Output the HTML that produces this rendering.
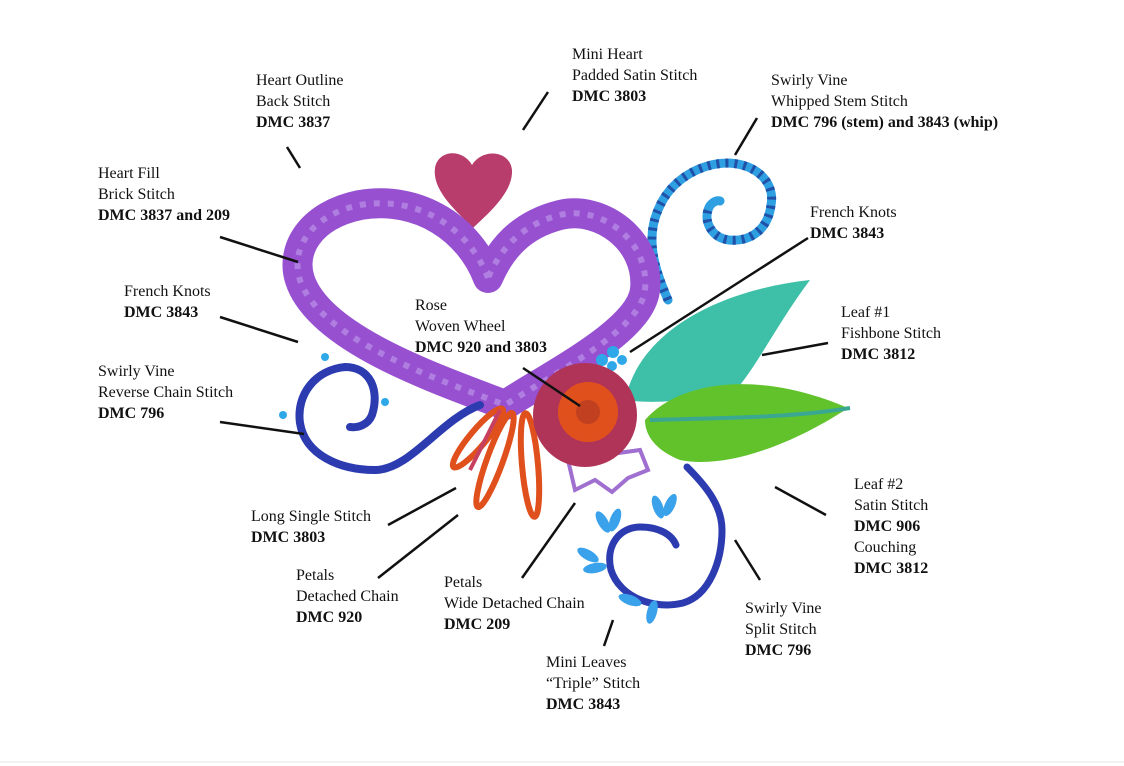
<!DOCTYPE html>
<html><head><meta charset="utf-8"><style>
body{margin:0;width:1124px;height:766px;background:#fff;position:relative;overflow:hidden;font-family:"Liberation Serif",serif;font-size:16px;color:#111}
.l{position:absolute;line-height:21px;white-space:nowrap}
b{font-weight:bold}
svg{position:absolute;left:0;top:0}
</style></head><body>
<svg width="1124" height="766" viewBox="0 0 1124 766">
<!-- top right swirl -->
<path d="M668,300 C655,270 645,240 658,210 C670,180 700,163 729,163 C760,165 775,185 771,205 C768,230 750,242 729,240 C712,238 704,222 708,210 C710,203 716,200 720,201" fill="none" stroke="#2e9fe0" stroke-width="9" stroke-linecap="round"/>
<path d="M668,300 C655,270 645,240 658,210 C670,180 700,163 729,163 C760,165 775,185 771,205 C768,230 750,242 729,240 C712,238 704,222 708,210" fill="none" stroke="#2050a8" stroke-width="9" stroke-dasharray="3 6"/>
<!-- mini heart -->
<path d="M473,228 C455,210 432,190 435,168 C438,150 462,148 472,165 C482,148 510,150 512,170 C513,192 490,212 473,228 Z" fill="#b83c6c"/>
<!-- heart outline -->
<path d="M488,278 C470,230 420,195 360,205 C310,215 290,250 300,280 C320,340 440,380 505,405 C560,370 640,330 645,290 C650,240 600,205 560,215 C520,225 500,250 488,278 Z" fill="none" stroke="#9650d0" stroke-width="30" stroke-linejoin="round"/>
<path d="M488,278 C470,230 420,195 360,205 C310,215 290,250 300,280 C320,340 440,380 505,405 C560,370 640,330 645,290 C650,240 600,205 560,215 C520,225 500,250 488,278 Z" fill="none" stroke="#b07ee0" stroke-width="6" stroke-dasharray="6 8"/>
<!-- left blue vine -->
<path d="M480,405 C440,420 410,470 375,470 C340,470 305,455 300,423 C296,395 315,370 345,367 C370,367 380,390 372,415 C368,425 358,428 350,427" fill="none" stroke="#2c3cb0" stroke-width="8" stroke-linecap="round"/>
<circle cx="325" cy="357" r="4" fill="#2ea8e8"/><circle cx="385" cy="402" r="4" fill="#2ea8e8"/><circle cx="283" cy="415" r="4" fill="#2ea8e8"/>
<!-- right bottom vine -->
<path d="M687,467 C705,485 722,505 722,530 C722,560 710,595 683,603 C655,610 620,598 611,570 C605,545 620,527 640,527 C660,527 672,535 676,545" fill="none" stroke="#2c3cb0" stroke-width="7" stroke-linecap="round"/>
<!-- mini leaves -->
<g fill="#3aa2ea">
<ellipse cx="603" cy="522" rx="5" ry="12" transform="rotate(-30 603 522)"/><ellipse cx="615" cy="520" rx="5" ry="12" transform="rotate(20 615 520)"/>
<ellipse cx="658" cy="507" rx="5" ry="12" transform="rotate(-20 658 507)"/><ellipse cx="670" cy="505" rx="5" ry="12" transform="rotate(25 670 505)"/>
<ellipse cx="588" cy="555" rx="5" ry="12" transform="rotate(-60 588 555)"/><ellipse cx="595" cy="568" rx="5" ry="12" transform="rotate(-100 595 568)"/>
<ellipse cx="630" cy="600" rx="5" ry="12" transform="rotate(-70 630 600)"/><ellipse cx="652" cy="612" rx="5" ry="12" transform="rotate(15 652 612)"/>
</g>
<!-- petals orange -->
<g fill="none" stroke="#e0501c" stroke-width="6">
<ellipse cx="478" cy="438" rx="8" ry="38" transform="rotate(40 478 438)"/>
<ellipse cx="495" cy="460" rx="8" ry="50" transform="rotate(20 495 460)"/>
<ellipse cx="530" cy="465" rx="8" ry="52" transform="rotate(-5 530 465)"/>
</g>
<line x1="500" y1="410" x2="470" y2="470" stroke="#c84060" stroke-width="4"/>
<!-- purple petals -->
<path d="M568,460 L575,490 L595,480 L612,492 L628,478 L648,470 L640,450 Z" fill="none" stroke="#a070d0" stroke-width="4"/>
<!-- teal leaf -->
<path d="M625,400 C640,330 720,290 810,280 C780,320 760,360 740,385 C700,400 660,405 625,400Z" fill="#3ec0a8"/>
<!-- green leaf -->
<path d="M645,420 C680,380 760,370 848,408 C800,440 730,470 680,460 C655,450 645,435 645,420 Z" fill="#62c22c"/>
<path d="M650,420 C720,418 790,418 850,408" fill="none" stroke="#3aa890" stroke-width="4"/>
<!-- french knots -->
<g fill="#2ea8e8"><circle cx="602" cy="360" r="6"/><circle cx="613" cy="352" r="6"/><circle cx="612" cy="366" r="5"/><circle cx="622" cy="360" r="5"/></g>
<!-- rose -->
<circle cx="585" cy="415" r="52" fill="#b03458"/>
<circle cx="588" cy="412" r="30" fill="#e0501c"/>
<circle cx="588" cy="412" r="12" fill="#c04020"/>
<!-- pointer lines -->
<g stroke="#111" stroke-width="2.5">
<line x1="287" y1="147" x2="300" y2="168"/>
<line x1="548" y1="92" x2="523" y2="130"/>
<line x1="757" y1="118" x2="735" y2="155"/>
<line x1="220" y1="237" x2="298" y2="262"/>
<line x1="220" y1="317" x2="298" y2="342"/>
<line x1="220" y1="422" x2="304" y2="434"/>
<line x1="808" y1="238" x2="630" y2="352"/>
<line x1="828" y1="343" x2="762" y2="355"/>
<line x1="523" y1="368" x2="580" y2="406"/>
<line x1="826" y1="515" x2="775" y2="487"/>
<line x1="388" y1="525" x2="456" y2="488"/>
<line x1="378" y1="578" x2="458" y2="515"/>
<line x1="522" y1="578" x2="575" y2="503"/>
<line x1="604" y1="646" x2="613" y2="620"/>
<line x1="760" y1="580" x2="735" y2="540"/>
</g>
<line x1="0" y1="762" x2="1124" y2="762" stroke="#e4e4e4" stroke-width="1"/>
</svg>
<div class="l" style="left:256px;top:70px">Heart Outline<br>Back Stitch<br><b>DMC 3837</b></div>
<div class="l" style="left:572px;top:44px">Mini Heart<br>Padded Satin Stitch<br><b>DMC 3803</b></div>
<div class="l" style="left:771px;top:70px">Swirly Vine<br>Whipped Stem Stitch<br><b>DMC 796 (stem) and 3843 (whip)</b></div>
<div class="l" style="left:98px;top:163px">Heart Fill<br>Brick Stitch<br><b>DMC 3837 and 209</b></div>
<div class="l" style="left:124px;top:281px">French Knots<br><b>DMC 3843</b></div>
<div class="l" style="left:98px;top:361px">Swirly Vine<br>Reverse Chain Stitch<br><b>DMC 796</b></div>
<div class="l" style="left:810px;top:202px">French Knots<br><b>DMC 3843</b></div>
<div class="l" style="left:841px;top:302px">Leaf #1<br>Fishbone Stitch<br><b>DMC 3812</b></div>
<div class="l" style="left:415px;top:295px">Rose<br>Woven Wheel<br><b>DMC 920 and 3803</b></div>
<div class="l" style="left:854px;top:474px">Leaf #2<br>Satin Stitch<br><b>DMC 906</b><br>Couching<br><b>DMC 3812</b></div>
<div class="l" style="left:251px;top:506px">Long Single Stitch<br><b>DMC 3803</b></div>
<div class="l" style="left:296px;top:565px">Petals<br>Detached Chain<br><b>DMC 920</b></div>
<div class="l" style="left:444px;top:572px">Petals<br>Wide Detached Chain<br><b>DMC 209</b></div>
<div class="l" style="left:546px;top:652px">Mini Leaves<br>“Triple” Stitch<br><b>DMC 3843</b></div>
<div class="l" style="left:745px;top:598px">Swirly Vine<br>Split Stitch<br><b>DMC 796</b></div>
</body></html>
